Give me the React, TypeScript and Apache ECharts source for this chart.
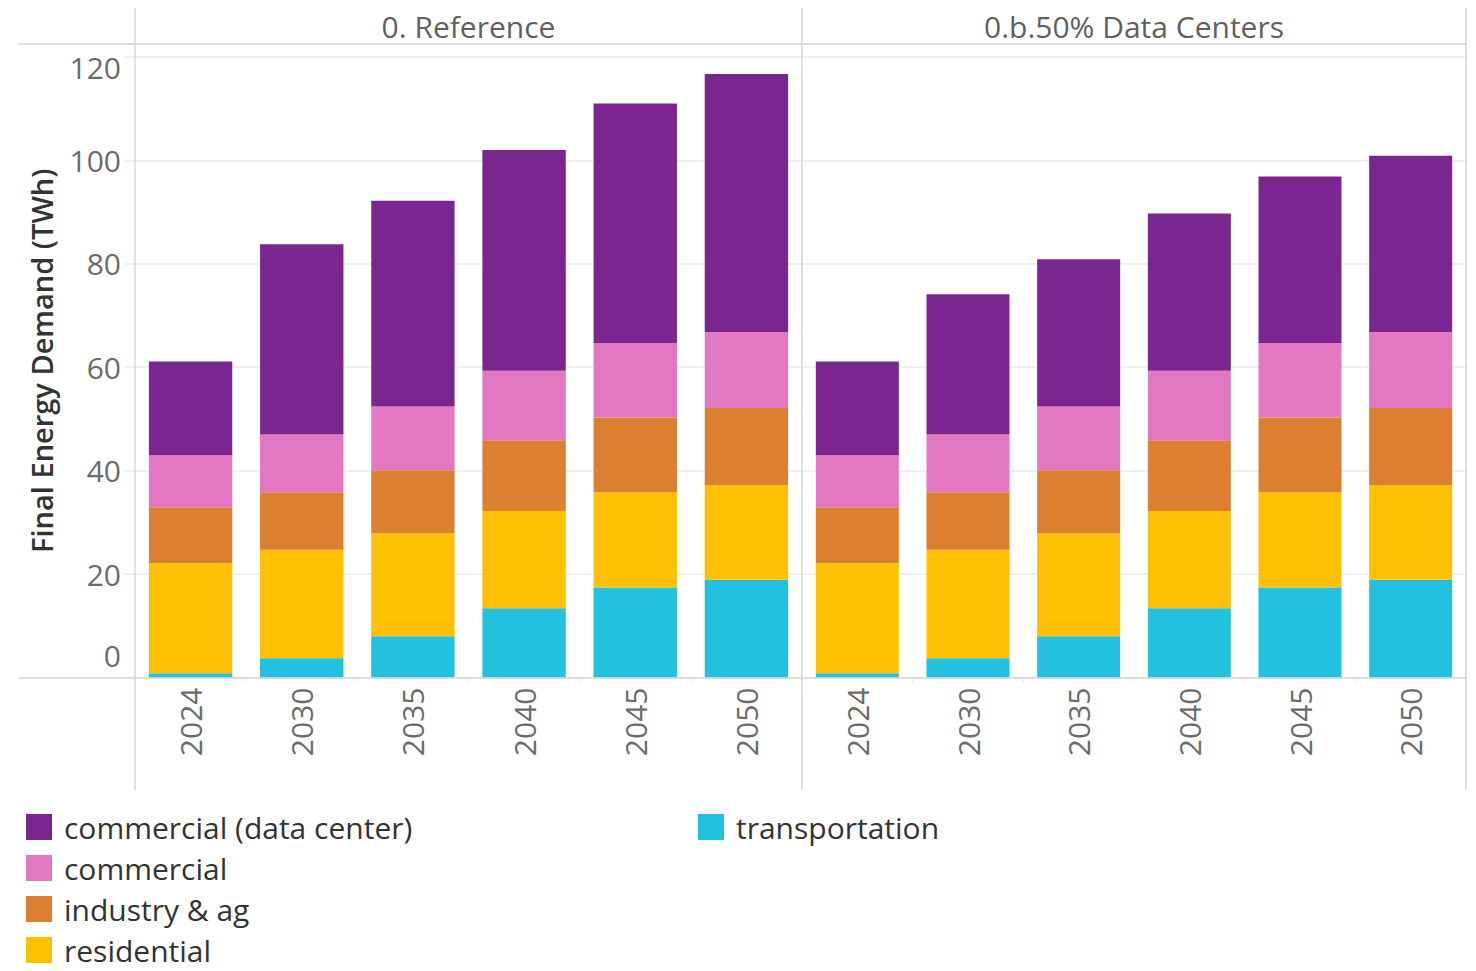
import React, { useEffect, useRef } from "react";
import * as echarts from "echarts";

const years = ["2024", "2030", "2035", "2040", "2045", "2050"];
const panels = ["0. Reference", "0.b.50% Data Centers"];
const seriesNames = ["transportation", "residential", "industry & ag", "commercial", "commercial (data center)"];
const seriesColors = ["#21C1DF", "#FEC000", "#DC7F30", "#E377C2", "#7A2590"];
const transportation = [0.8, 3.7, 8.0, 13.4, 17.4, 18.9];
const residential = [21.3, 21.0, 19.9, 18.8, 18.4, 18.3];
const industryAg = [10.8, 11.1, 12.2, 13.7, 14.5, 14.9];
const commercial = [10.1, 11.2, 12.3, 13.4, 14.4, 14.7];
const dataCenterRef = [18.1, 36.8, 39.8, 42.7, 46.3, 49.9];
const dataCenter50 = [18.1, 27.1, 28.5, 30.4, 32.2, 34.1];
const yTickStep = 20;
const yMax = 122.5;

const FONT = "'Open Sans', 'Noto Sans', sans-serif";
const LINE = "#d6d6d6";

export default function App() {
  const ref = useRef<HTMLDivElement>(null);
  useEffect(() => {
    if (!ref.current) return;
    const chart = echarts.init(ref.current, undefined, { renderer: "svg" });
    const panelData = [
      [transportation, residential, industryAg, commercial, dataCenterRef],
      [transportation, residential, industryAg, commercial, dataCenter50],
    ];
    const grids = [
      { left: 135, right: 1476 - 802, top: 44, bottom: 971 - 677.5 },
      { left: 802, right: 1476 - 1466, top: 44, bottom: 971 - 677.5 },
    ];
    const series: any[] = [];
    panelData.forEach((arrs, p) => {
      arrs.forEach((d, i) => {
        series.push({
          type: "bar",
          name: seriesNames[i],
          xAxisIndex: p,
          yAxisIndex: p,
          stack: "p" + p,
          barWidth: "75%",
          data: d,
          itemStyle: { color: seriesColors[i] },
          emphasis: { disabled: true },
        });
      });
    });
    const tickFs = 30;
    const labelRich = {
      n: { fontSize: tickFs, color: "#6b6b6b", fontFamily: FONT },
      lo: { fontSize: tickFs, color: "#6b6b6b", fontFamily: FONT, padding: [0, 0, 44, 0] },
      hi: { fontSize: tickFs, color: "#6b6b6b", fontFamily: FONT, padding: [22, 0, 0, 0] },
    };
    const yAxes = grids.map((_, p) => ({
      type: "value",
      gridIndex: p,
      min: 0,
      max: yMax,
      interval: yTickStep,
      name: p === 0 ? "Final Energy Demand (TWh)" : "",
      nameLocation: "middle",
      nameRotate: 90,
      nameGap: 79,
      nameTextStyle: { fontSize: 29, fontWeight: 600, color: "#333", fontFamily: FONT },
      axisLine: { show: false },
      axisTick: p === 0 ? { show: true, length: 10, lineStyle: { color: "#efefef", width: 2 } } : { show: false },
      axisLabel: {
        show: p === 0,
        margin: 14,
        formatter: (v: number) => {
          if (v % yTickStep !== 0) return "";
          if (v === 0) return "{lo|0}";
          if (v === 120) return "{hi|120}";
          return "{n|" + v + "}";
        },
        rich: labelRich,
      },
      splitLine: { show: true, lineStyle: { color: "#f0f0f0", width: 2 } },
    }));
    const xAxes = grids.map((_, p) => ({
      type: "category",
      gridIndex: p,
      data: years,
      axisLine: { show: false },
      axisTick: { show: true, length: 4, lineStyle: { color: "#e6e6e6" } },
      axisLabel: {
        rotate: 90,
        margin: 10,
        fontSize: 30,
        color: "#6b6b6b",
        fontFamily: FONT,
      },
    }));
    const lines = [
      { x1: 18, y1: 44, x2: 1466, y2: 44 },
      { x1: 18, y1: 678, x2: 1466, y2: 678 },
      { x1: 135, y1: 8, x2: 135, y2: 790 },
      { x1: 802, y1: 8, x2: 802, y2: 790 },
      { x1: 1466, y1: 8, x2: 1466, y2: 790 },
    ];
    const graphic: any[] = lines.map((s) => ({
      type: "line",
      shape: s,
      style: { stroke: LINE, lineWidth: 1.5 },
      z: 10,
      silent: true,
    }));
    panels.forEach((t, p) => {
      graphic.push({
        type: "text",
        x: p === 0 ? 468.5 : 1134,
        y: 26,
        style: {
          text: t,
          fontSize: 30,
          fill: "#5f5f5f",
          fontFamily: FONT,
          textAlign: "center",
          textVerticalAlign: "middle",
        },
        silent: true,
      });
    });
    const legendCommon = {
      orient: "vertical",
      itemWidth: 26,
      itemHeight: 26,
      itemGap: 11,
      icon: "rect",
      padding: 0,
      height: 180,
      selectedMode: false,
      textStyle: { fontSize: 30, color: "#333", fontFamily: FONT, lineHeight: 28, padding: [0, 0, 0, 7] },
    };
    chart.setOption({
      animation: false,
      backgroundColor: "#ffffff",
      grid: grids,
      xAxis: xAxes,
      yAxis: yAxes,
      series,
      legend: [
        {
          ...legendCommon,
          left: 26,
          top: 812,
          data: ["commercial (data center)", "commercial", "industry & ag", "residential"],
        },
        { ...legendCommon, left: 698, top: 812, data: ["transportation"] },
      ],
      graphic,
    });
    return () => chart.dispose();
  }, []);
  return (
    <div
      ref={ref}
      style={{ position: "fixed", left: 0, top: 0, width: 1476, height: 971, background: "#fff" }}
    />
  );
}
